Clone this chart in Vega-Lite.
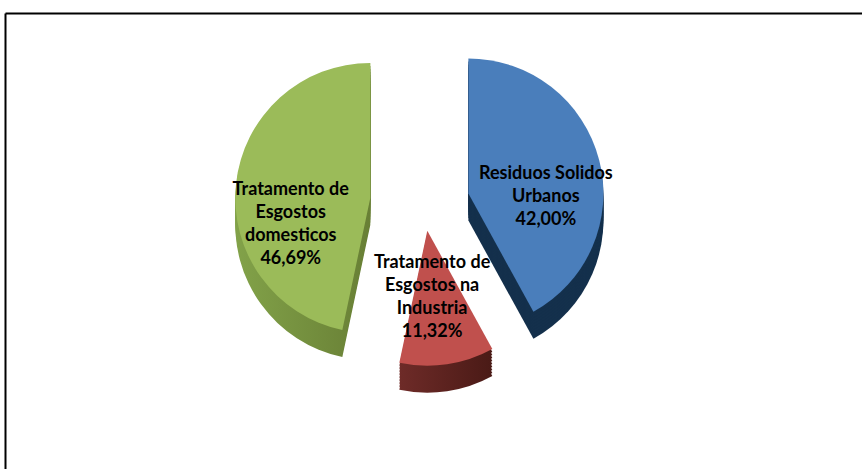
{
  "$schema": "https://vega.github.io/schema/vega-lite/v6.json",
  "width": 857,
  "height": 456,
  "autosize": {"type": "none"},
  "padding": {"left": 5, "top": 13, "right": 0, "bottom": 0},
  "background": "white",
  "config": {
    "view": {"stroke": null},
    "text": {"font": "Lato"},
    "arc": {"radius": 135}
  },
  "data": {
    "values": [
      {"ord": 1, "cat": "Residuos Solidos Urbanos", "v": 42.00, "label": "Residuos Solidos\nUrbanos\n42,00%"},
      {"ord": 2, "cat": "Tratamento de Esgostos na Industria", "v": 11.32, "label": "Tratamento de\nEsgostos na\nIndustria\n11,32%"},
      {"ord": 3, "cat": "Tratamento de Esgostos domesticos", "v": 46.69, "label": "Tratamento de\nEsgostos\ndomesticos\n46,69%"}
    ]
  },
  "transform": [
    {"stack": "v", "groupby": [], "sort": [{"field": "ord", "order": "ascending"}], "as": ["v0", "v1"]},
    {"calculate": "(datum.v0 + datum.v1) / 2", "as": "vmid"}
  ],
  "layer": [
    {
      "mark": {"type": "rule", "strokeOpacity": 0},
      "encoding": {
        "x": {"datum": 0, "type": "quantitative", "scale": {"domain": [0, 1]}, "axis": {"orient": "top", "domain": true, "domainColor": "black", "domainWidth": 2, "ticks": false, "labels": false, "grid": false, "title": null}},
        "y": {"datum": 0, "type": "quantitative", "scale": {"domain": [0, 1]}, "axis": {"orient": "left", "domain": true, "domainColor": "black", "domainWidth": 2, "ticks": false, "labels": false, "grid": false, "title": null}}
      }
    },
    {
      "transform": [{"filter": "datum.ord == 1"}],
      "encoding": {
        "theta": {"field": "v0", "type": "quantitative", "stack": null, "scale": {"domain": [0, 100], "range": [0, 6.283185307179586]}},
        "theta2": {"field": "v1"}
      },
      "layer": [
        {"mark": {"type": "arc", "fill": "#14304C", "xOffset": 34.9, "yOffset": -20.5}},
        {"mark": {"type": "arc", "fill": "#14304C", "xOffset": 34.9, "yOffset": -23.5}},
        {"mark": {"type": "arc", "fill": "#14304C", "xOffset": 34.9, "yOffset": -26.5}},
        {"mark": {"type": "arc", "fill": "#14304C", "xOffset": 34.9, "yOffset": -29.5}},
        {"mark": {"type": "arc", "fill": "#14304C", "xOffset": 34.9, "yOffset": -32.5}},
        {"mark": {"type": "arc", "fill": "#14304C", "xOffset": 34.9, "yOffset": -35.5}},
        {"mark": {"type": "arc", "fill": "#14304C", "xOffset": 34.9, "yOffset": -38.5}},
        {"mark": {"type": "arc", "fill": "#14304C", "xOffset": 34.9, "yOffset": -41.5}},
        {"mark": {"type": "arc", "fill": "#14304C", "xOffset": 34.9, "yOffset": -44.5}},
        {"mark": {"type": "arc", "fill": "#4A7EBB", "xOffset": 34.9, "yOffset": -47.5}}
      ]
    },
    {
      "transform": [{"filter": "datum.ord == 3"}],
      "encoding": {
        "theta": {"field": "v0", "type": "quantitative", "stack": null, "scale": {"domain": [0, 100], "range": [0, 6.283185307179586]}},
        "theta2": {"field": "v1"}
      },
      "layer": [
        {"mark": {"type": "arc", "fill": {"gradient": "linear", "x1": 0, "x2": 1, "y1": 0, "y2": 0, "stops": [{"offset": 0, "color": "#82A249"}, {"offset": 1, "color": "#687F35"}]}, "xOffset": -63.2, "yOffset": -16.1}},
        {"mark": {"type": "arc", "fill": {"gradient": "linear", "x1": 0, "x2": 1, "y1": 0, "y2": 0, "stops": [{"offset": 0, "color": "#82A249"}, {"offset": 1, "color": "#687F35"}]}, "xOffset": -63.2, "yOffset": -19.1}},
        {"mark": {"type": "arc", "fill": {"gradient": "linear", "x1": 0, "x2": 1, "y1": 0, "y2": 0, "stops": [{"offset": 0, "color": "#82A249"}, {"offset": 1, "color": "#687F35"}]}, "xOffset": -63.2, "yOffset": -22.1}},
        {"mark": {"type": "arc", "fill": {"gradient": "linear", "x1": 0, "x2": 1, "y1": 0, "y2": 0, "stops": [{"offset": 0, "color": "#82A249"}, {"offset": 1, "color": "#687F35"}]}, "xOffset": -63.2, "yOffset": -25.1}},
        {"mark": {"type": "arc", "fill": {"gradient": "linear", "x1": 0, "x2": 1, "y1": 0, "y2": 0, "stops": [{"offset": 0, "color": "#82A249"}, {"offset": 1, "color": "#687F35"}]}, "xOffset": -63.2, "yOffset": -28.1}},
        {"mark": {"type": "arc", "fill": {"gradient": "linear", "x1": 0, "x2": 1, "y1": 0, "y2": 0, "stops": [{"offset": 0, "color": "#82A249"}, {"offset": 1, "color": "#687F35"}]}, "xOffset": -63.2, "yOffset": -31.1}},
        {"mark": {"type": "arc", "fill": {"gradient": "linear", "x1": 0, "x2": 1, "y1": 0, "y2": 0, "stops": [{"offset": 0, "color": "#82A249"}, {"offset": 1, "color": "#687F35"}]}, "xOffset": -63.2, "yOffset": -34.1}},
        {"mark": {"type": "arc", "fill": {"gradient": "linear", "x1": 0, "x2": 1, "y1": 0, "y2": 0, "stops": [{"offset": 0, "color": "#82A249"}, {"offset": 1, "color": "#687F35"}]}, "xOffset": -63.2, "yOffset": -37.1}},
        {"mark": {"type": "arc", "fill": {"gradient": "linear", "x1": 0, "x2": 1, "y1": 0, "y2": 0, "stops": [{"offset": 0, "color": "#82A249"}, {"offset": 1, "color": "#687F35"}]}, "xOffset": -63.2, "yOffset": -40.1}},
        {"mark": {"type": "arc", "fill": "#9BBB59", "xOffset": -63.2, "yOffset": -43.1}}
      ]
    },
    {
      "transform": [{"filter": "datum.ord == 2"}],
      "encoding": {
        "theta": {"field": "v0", "type": "quantitative", "stack": null, "scale": {"domain": [0, 100], "range": [0, 6.283185307179586]}},
        "theta2": {"field": "v1"}
      },
      "layer": [
        {"mark": {"type": "arc", "fill": {"gradient": "linear", "x1": 0, "x2": 1, "y1": 0, "y2": 0, "stops": [{"offset": 0, "color": "#6E2B28"}, {"offset": 1, "color": "#4A1A16"}]}, "xOffset": -6.2, "yOffset": 16.7}},
        {"mark": {"type": "arc", "fill": {"gradient": "linear", "x1": 0, "x2": 1, "y1": 0, "y2": 0, "stops": [{"offset": 0, "color": "#6E2B28"}, {"offset": 1, "color": "#4A1A16"}]}, "xOffset": -6.2, "yOffset": 13.7}},
        {"mark": {"type": "arc", "fill": {"gradient": "linear", "x1": 0, "x2": 1, "y1": 0, "y2": 0, "stops": [{"offset": 0, "color": "#6E2B28"}, {"offset": 1, "color": "#4A1A16"}]}, "xOffset": -6.2, "yOffset": 10.7}},
        {"mark": {"type": "arc", "fill": {"gradient": "linear", "x1": 0, "x2": 1, "y1": 0, "y2": 0, "stops": [{"offset": 0, "color": "#6E2B28"}, {"offset": 1, "color": "#4A1A16"}]}, "xOffset": -6.2, "yOffset": 7.7}},
        {"mark": {"type": "arc", "fill": {"gradient": "linear", "x1": 0, "x2": 1, "y1": 0, "y2": 0, "stops": [{"offset": 0, "color": "#6E2B28"}, {"offset": 1, "color": "#4A1A16"}]}, "xOffset": -6.2, "yOffset": 4.7}},
        {"mark": {"type": "arc", "fill": {"gradient": "linear", "x1": 0, "x2": 1, "y1": 0, "y2": 0, "stops": [{"offset": 0, "color": "#6E2B28"}, {"offset": 1, "color": "#4A1A16"}]}, "xOffset": -6.2, "yOffset": 1.7}},
        {"mark": {"type": "arc", "fill": {"gradient": "linear", "x1": 0, "x2": 1, "y1": 0, "y2": 0, "stops": [{"offset": 0, "color": "#6E2B28"}, {"offset": 1, "color": "#4A1A16"}]}, "xOffset": -6.2, "yOffset": -1.3}},
        {"mark": {"type": "arc", "fill": {"gradient": "linear", "x1": 0, "x2": 1, "y1": 0, "y2": 0, "stops": [{"offset": 0, "color": "#6E2B28"}, {"offset": 1, "color": "#4A1A16"}]}, "xOffset": -6.2, "yOffset": -4.3}},
        {"mark": {"type": "arc", "fill": {"gradient": "linear", "x1": 0, "x2": 1, "y1": 0, "y2": 0, "stops": [{"offset": 0, "color": "#6E2B28"}, {"offset": 1, "color": "#4A1A16"}]}, "xOffset": -6.2, "yOffset": -7.3}},
        {"mark": {"type": "arc", "fill": "#C0504D", "xOffset": -6.2, "yOffset": -10.3}}
      ]
    },
    {
      "transform": [{"filter": "datum.ord == 1"}],
      "mark": {"type": "text", "radius": 80, "xOffset": 34.9, "yOffset": -47.5, "fontSize": 18, "fontWeight": "bold", "lineBreak": "\n", "lineHeight": 23, "align": "center", "baseline": "middle", "color": "black"},
      "encoding": {
        "theta": {"field": "vmid", "type": "quantitative", "stack": null, "scale": {"domain": [0, 100], "range": [0, 6.283185307179586]}},
        "text": {"field": "label"}
      }
    },
    {
      "transform": [{"filter": "datum.ord == 3"}],
      "mark": {"type": "text", "radius": 80, "xOffset": -63.2, "yOffset": -43.1, "fontSize": 18, "fontWeight": "bold", "lineBreak": "\n", "lineHeight": 23, "align": "center", "baseline": "middle", "color": "black"},
      "encoding": {
        "theta": {"field": "vmid", "type": "quantitative", "stack": null, "scale": {"domain": [0, 100], "range": [0, 6.283185307179586]}},
        "text": {"field": "label"}
      }
    },
    {
      "transform": [{"filter": "datum.ord == 2"}],
      "mark": {"type": "text", "radius": 33, "xOffset": -6.2, "yOffset": -10.3, "fontSize": 18, "fontWeight": "bold", "lineBreak": "\n", "lineHeight": 23, "align": "center", "baseline": "middle", "color": "black"},
      "encoding": {
        "theta": {"field": "vmid", "type": "quantitative", "stack": null, "scale": {"domain": [0, 100], "range": [0, 6.283185307179586]}},
        "text": {"field": "label"}
      }
    }
  ]
}
